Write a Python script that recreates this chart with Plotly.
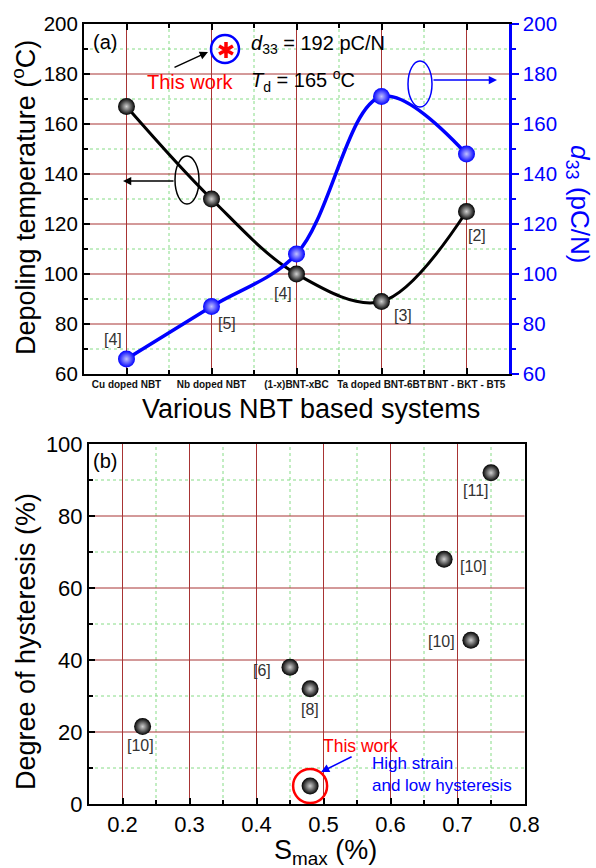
import plotly.graph_objects as go

# ---------------- data ----------------
categories = ["Cu doped NBT", "Nb doped NBT", "(1-x)BNT-xBC", "Ta doped BNT-6BT", "BNT - BKT - BT5"]
depoling_temp = [167, 130, 100, 89, 125]
d33_values = [66, 87, 108, 171, 148]
refs_a = ["[4]", "[5]", "[4]", "[3]", "[2]"]

smax = [0.23, 0.45, 0.48, 0.68, 0.72, 0.75]
hysteresis = [21.5, 38, 32, 68, 45.5, 92]
refs_b = ["[10]", "[6]", "[8]", "[10]", "[10]", "[11]"]
this_work_smax = [0.48]
this_work_hyst = [5]

W, H = 596, 868
FONT = "Liberation Sans, Arial, sans-serif"
RED_GRID = "#a83434"
GREEN_GRID = "#86dc86"
BLUE = "#0000ff"


def px(xp):
    return xp / W


def py(yp):
    return 1 - yp / H


x_idx = list(range(len(categories)))

# tick / grid positions
xa_minor = [i + 0.5 for i in x_idx[:-1]]
ya_major = list(range(60, 201, 20))
ya_minor = list(range(70, 200, 20))
xb_major = [round(0.2 + 0.1 * i, 2) for i in range(7)]
xb_minor = [round(0.25 + 0.1 * i, 2) for i in range(6)]
yb_major = list(range(0, 101, 20))
yb_minor = list(range(10, 100, 20))

fig = go.Figure()

ball_black = dict(size=17, color="black", gradient=dict(type="radial", color="#d0d0d0"))
ball_blue = dict(size=17, color=BLUE, gradient=dict(type="radial", color="#c0c0ff"))

fig.add_trace(go.Scatter(x=x_idx, y=depoling_temp, mode="lines+markers", xaxis="x", yaxis="y",
                         line=dict(color="black", width=3, shape="spline", smoothing=1.0),
                         marker=ball_black, hoverinfo="skip"))
fig.add_trace(go.Scatter(x=x_idx, y=d33_values, mode="lines+markers", xaxis="x", yaxis="y2",
                         line=dict(color=BLUE, width=3.5, shape="spline", smoothing=1.0),
                         marker=ball_blue, hoverinfo="skip"))
fig.add_trace(go.Scatter(x=smax, y=hysteresis, mode="markers", xaxis="x2", yaxis="y3",
                         marker=dict(size=17, color="black", gradient=dict(type="radial", color="#d0d0d0")),
                         hoverinfo="skip"))
fig.add_trace(go.Scatter(x=this_work_smax, y=this_work_hyst, mode="markers", xaxis="x2", yaxis="y3",
                         marker=dict(size=17, color="black", gradient=dict(type="radial", color="#d0d0d0")),
                         hoverinfo="skip"))


def minor_ticks(vals, ticks="inside", color="black"):
    return dict(tickmode="array", tickvals=vals, ticks=ticks, ticklen=4, tickcolor=color, showgrid=False)


common = dict(showline=True, linecolor="black", linewidth=2, showgrid=False,
              zeroline=False, automargin=False, fixedrange=True,
              ticks="inside", ticklen=6, tickwidth=1.5, tickcolor="black")

# plot-area edges chosen so that grid lines fall on whole pixels
A_L, A_R, A_T, A_B = 84, 509, 24, 374
B_L, B_R, B_T, B_B = 89, 524.5, 444, 804

fig.update_layout(
    width=W, height=H, margin=dict(l=0, r=0, t=0, b=0),
    paper_bgcolor="white", plot_bgcolor="white", showlegend=False,
    font=dict(family=FONT),
    xaxis=dict(domain=[px(A_L), px(A_R)], anchor="y", range=[-0.5, 4.5],
               tickmode="array", tickvals=x_idx, ticktext=categories, tickangle=0,
               tickfont=dict(family=FONT, size=10, color="#111", weight="bold"),
               mirror="ticks", minor=minor_ticks(xa_minor), **common),
    yaxis=dict(domain=[py(A_B), py(A_T)], anchor="x", range=[60, 200],
               tickmode="array", tickvals=ya_major,
               tickfont=dict(family=FONT, size=20.5, color="black"),
               mirror=False, minor=minor_ticks(ya_minor), **common),
    yaxis2=dict(overlaying="y", side="right", anchor="x", range=[60, 200],
                tickmode="array", tickvals=ya_major,
                tickfont=dict(family=FONT, size=20.5, color=BLUE),
                ticks="outside", ticklen=7, tickwidth=1.5, tickcolor=BLUE,
                showline=True, linecolor=BLUE, linewidth=2.5, showgrid=False,
                minor=minor_ticks(ya_minor, "outside", BLUE),
                zeroline=False, automargin=False, fixedrange=True),
    xaxis2=dict(domain=[px(B_L), px(B_R)], anchor="y3", range=[0.15, 0.8],
                tickmode="array", tickvals=xb_major,
                tickfont=dict(family=FONT, size=22, color="black"),
                mirror=True, minor=minor_ticks(xb_minor), **common),
    yaxis3=dict(domain=[py(B_B), py(B_T)], anchor="x2", range=[0, 100],
                tickmode="array", tickvals=yb_major,
                tickfont=dict(family=FONT, size=22, color="black"),
                mirror=True, minor=minor_ticks(yb_minor), **common),
)

shapes = []
# grid lines placed through the axes' own scales
minor_line = dict(color=GREEN_GRID, width=1, dash="dot")
major_line = dict(color=RED_GRID, width=1)


def vgrid(vals, xr, yr, line):
    for v in vals:
        shapes.append(dict(type="line", xref=xr, yref=yr + " domain", x0=v, x1=v, y0=0, y1=1,
                           line=line, layer="below"))


def hgrid(vals, xr, yr, line):
    for v in vals:
        shapes.append(dict(type="line", xref=xr + " domain", yref=yr, x0=0, x1=1, y0=v, y1=v,
                           line=line, layer="below"))


vgrid(xa_minor, "x", "y", minor_line)
hgrid(ya_minor, "x", "y", minor_line)
vgrid(xb_minor, "x2", "y3", minor_line)
hgrid(yb_minor, "x2", "y3", minor_line)
vgrid(x_idx, "x", "y", major_line)
hgrid(ya_major[1:-1], "x", "y", major_line)
vgrid(xb_major[:-1], "x2", "y3", major_line)
hgrid(yb_major[1:-1], "x2", "y3", major_line)

ann = []


def text_px(x, y, text, size=18, color="black", xanchor="center", yanchor="middle", angle=0, align="center"):
    ann.append(dict(x=px(x), y=py(y), xref="paper", yref="paper", text=text, showarrow=False,
                    font=dict(family=FONT, size=size, color=color), xanchor=xanchor, yanchor=yanchor,
                    textangle=angle, align=align))


def arrow_px(x_head, y_head, x_tail, y_tail, color="black", width=1.5):
    ann.append(dict(x=px(x_head), y=py(y_head), xref="paper", yref="paper", text="",
                    showarrow=True, ax=x_tail - x_head, ay=y_tail - y_head, axref="pixel", ayref="pixel",
                    arrowhead=2, arrowsize=1.1, arrowwidth=width, arrowcolor=color))


# axis titles
text_px(24, 198, "Depoling temperature (<sup>o</sup>C)", size=27, angle=-90)
text_px(578, 204, "<i>d</i><sub>33</sub> (pC/N)", size=26, color=BLUE, angle=90)
text_px(311, 409, "Various NBT based systems", size=27)
text_px(26, 642, "Degree of hysteresis (%)", size=27, angle=-90)
text_px(325, 852, "S<sub>max</sub> (%)", size=27)

# panel labels
text_px(91, 42, "(a)", size=20, xanchor="left")
text_px(91, 461, "(b)", size=20, xanchor="left")

# panel a annotations
text_px(249, 45, "<i>d</i><sub>33</sub> = 192 pC/N", size=20, xanchor="left")
text_px(249, 80, "<i>T</i><sub>d</sub> = 165 <sup>o</sup>C", size=20, xanchor="left")
text_px(190, 82, "This work", size=20, color="#ff0000")
arrow_px(208, 52, 173, 68)
arrow_px(123, 181, 175, 181)
arrow_px(497, 80, 432, 80, color=BLUE)

# six-armed asterisk inside blue circle (annotation glyph)
cx, cy, r = 226, 50, 8
star_path = (f"M{px(cx)},{py(cy - r)} L{px(cx)},{py(cy + r)} "
             f"M{px(cx - 0.866 * r)},{py(cy - 0.5 * r)} L{px(cx + 0.866 * r)},{py(cy + 0.5 * r)} "
             f"M{px(cx - 0.866 * r)},{py(cy + 0.5 * r)} L{px(cx + 0.866 * r)},{py(cy - 0.5 * r)}")

shapes += [
    dict(type="circle", xref="paper", yref="paper", x0=px(211), x1=px(239), y0=py(63), y1=py(35),
         line=dict(color=BLUE, width=2.5)),
    dict(type="path", xref="paper", yref="paper", path=star_path, line=dict(color="#ff0000", width=3.5)),
    dict(type="circle", xref="paper", yref="paper", x0=px(175), x1=px(199), y0=py(204), y1=py(156),
         line=dict(color="black", width=1.5)),
    dict(type="circle", xref="paper", yref="paper", x0=px(408), x1=px(432), y0=py(107), y1=py(61),
         line=dict(color=BLUE, width=1.5)),
    dict(type="circle", xref="x2", yref="y3", xsizemode="pixel", ysizemode="pixel",
         xanchor=this_work_smax[0], yanchor=this_work_hyst[0], x0=-17, x1=17, y0=-17, y1=17,
         line=dict(color="#ff0000", width=2.5)),
]

# reference labels for panel a (attached to points)
offs_a = [(-14, 20, "y2"), (15, -17, "y2"), (-14, -19, "y"), (21, -14, "y"), (10, -24, "y")]
for i, (dx, dy, yr) in enumerate(offs_a):
    yv = d33_values[i] if yr == "y2" else depoling_temp[i]
    ann.append(dict(x=x_idx[i], y=yv, xref="x", yref=yr, text=refs_a[i], showarrow=False,
                    xshift=dx, yshift=dy, font=dict(family=FONT, size=16, color="#333")))

# reference labels for panel b
offs_b = [(-2, -19), (-28, -3), (0, -21), (29, -7), (-29, -1), (-15, -18)]
for i, (dx, dy) in enumerate(offs_b):
    ann.append(dict(x=smax[i], y=hysteresis[i], xref="x2", yref="y3", text=refs_b[i], showarrow=False,
                    xshift=dx, yshift=dy, font=dict(family=FONT, size=16, color="#333")))

ann.append(dict(x=this_work_smax[0], y=this_work_hyst[0], xref="x2", yref="y3", text="This work",
                showarrow=False, xshift=50, yshift=40, font=dict(family=FONT, size=17.5, color="#ff0000")))
ann.append(dict(x=this_work_smax[0], y=this_work_hyst[0], xref="x2", yref="y3",
                text="High strain<br>and low hysteresis", showarrow=False, xanchor="left", align="left",
                xshift=60, yshift=12, font=dict(family=FONT, size=17, color=BLUE)))
ann.append(dict(x=this_work_smax[0], y=this_work_hyst[0], xref="x2", yref="y3", text="",
                showarrow=True, xshift=11, yshift=14, ax=32, ay=-16, axref="pixel", ayref="pixel",
                arrowhead=2, arrowsize=1.1, arrowwidth=1.5, arrowcolor=BLUE))

fig.update_layout(annotations=ann, shapes=shapes)

fig.write_html("out.html")
